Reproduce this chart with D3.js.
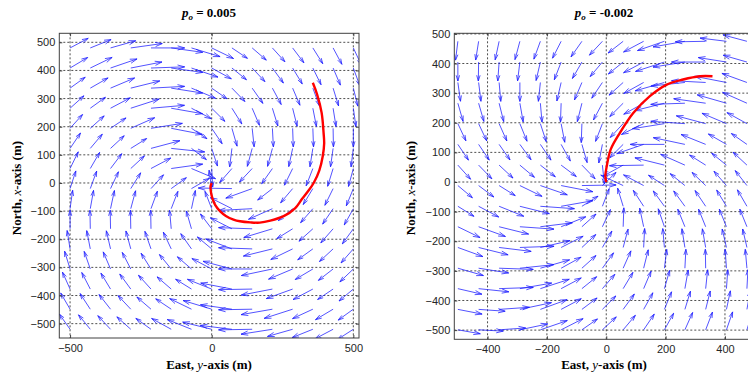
<!DOCTYPE html>
<html>
<head>
<meta charset="utf-8">
<script src="https://cdnjs.cloudflare.com/ajax/libs/d3/7.8.5/d3.min.js"></script>
<style>
  body { margin: 0; background: #fff; }
  svg { display: block; }
  .tick text { font-family: "Liberation Sans", Arial, sans-serif; font-size: 11px; fill: #262626; }
  .tick line { stroke: #404040; }
</style>
</head>
<body>
<div id="chart"></div>
<script>
// ---- data ----
// grid of arrow tails (East / North, metres)
var leftGridX = [-500, -428.6, -357.1, -285.7, -214.3, -142.9, -71.4, 0, 71.4, 142.9, 214.3, 285.7, 357.1, 428.6, 500];
var leftGridY = [480, 408.6, 337.1, 265.7, 194.3, 122.9, 51.4, -20, -91.4, -162.9, -234.3, -305.7, -377.1, -448.6, -520];

// arrow heading in degrees (0 = East, 90 = North), one row per leftGridY
var leftAngle = [
  [28, 22, 16, 8, 0, -8, -17, -26, -34, -41, -48, -53, -58, -62, -65],
  [31, 26, 19, 11, 2, -8, -19, -29, -39, -47, -54, -59, -64, -67, -70],
  [36, 30, 23, 14, 3, -9, -23, -35, -46, -55, -62, -67, -70, -73, -76],
  [42, 36, 28, 18, 5, -10, -28, -45, -58, -67, -73, -76, -79, -81, -82],
  [48, 42, 34, 24, 9, -11, -34, -56, -74, -84, -87, -88, -88, -89, -90],
  [56, 50, 43, 32, 15, -6, -37, -72, -97, -105, -105, -102, -99, -98, -97],
  [64, 60, 53, 43, 28, 8, -23, -87, -131, -133, -125, -116, -111, -107, -105],
  [72, 70, 65, 58, 48, 36, 30, 98, 179, -160, -142, -130, -121, -116, -112],
  [82, 80, 78, 75, 70, 69, 78, 111, 153, -177, -156, -140, -131, -124, -119],
  [90, 91, 91, 91, 91, 95, 106, 127, 153, 178, -163, -148, -138, -131, -126],
  [99, 101, 103, 105, 109, 115, 125, 140, 159, 178, -166, -154, -144, -137, -131],
  [107, 109, 113, 117, 122, 129, 139, 152, 165, 180, -168, -157, -149, -142, -136],
  [114, 117, 121, 126, 132, 139, 148, 158, 169, -179, -169, -160, -152, -146, -140],
  [120, 123, 128, 133, 139, 146, 154, 163, 172, -179, -170, -162, -155, -149, -144],
  [125, 129, 133, 138, 144, 151, 158, 166, 173, -179, -171, -164, -158, -152, -147]
];

// relative arrow length
var leftLength = [
  [1.1, 1.2, 1.4, 1.7, 1.8, 1.7, 1.6, 1.3, 1, 1, 1, 1, 1, 1, 1],
  [1.1, 1.3, 1.5, 1.7, 1.8, 1.7, 1.5, 1.2, 1, 1, 1, 1, 1, 1, 1],
  [1, 1.1, 1.4, 1.6, 1.8, 1.7, 1.4, 1, 1, 1, 1, 1, 1, 1, 1],
  [1, 1, 1.2, 1.6, 1.8, 1.7, 1.2, 1, 1, 1, 1, 1, 1, 1, 1],
  [1, 1, 1, 1.4, 1.7, 1.7, 1, 1, 1, 1, 1, 1, 1, 1, 1],
  [1, 1, 1, 1, 1.6, 1.8, 1, 1, 1, 1, 1, 1, 1, 1, 1],
  [1, 1, 1, 1, 1.2, 1.7, 1.4, 1, 1, 1, 1, 1, 1, 1, 1],
  [1, 1, 1, 1, 1, 1, 1.1, 1, 1.8, 1.5, 1, 1, 1, 1, 1],
  [1, 1, 1, 1, 1, 1, 1, 1, 1.3, 1.8, 1.4, 1, 1, 1, 1],
  [1, 1, 1, 1, 1, 1, 1, 1, 1.3, 1.8, 1.6, 1, 1, 1, 1],
  [1, 1, 1, 1, 1, 1, 1, 1, 1.5, 1.8, 1.6, 1.3, 1, 1, 1],
  [1, 1, 1, 1, 1, 1, 1, 1.2, 1.6, 1.8, 1.7, 1.4, 1.1, 1, 1],
  [1, 1, 1, 1, 1, 1, 1, 1.4, 1.7, 1.8, 1.7, 1.5, 1.2, 1, 1],
  [1, 1, 1, 1, 1, 1, 1.3, 1.6, 1.7, 1.8, 1.7, 1.6, 1.2, 1.1, 1],
  [1, 1, 1, 1, 1, 1.2, 1.4, 1.6, 1.7, 1.8, 1.7, 1.4, 1.2, 1.1, 1]
];

// red trajectory [East, North]
var leftPath = [[357, 356], [372, 315], [388, 250], [395, 178], [397, 140], [392, 95], [380, 45],
  [360, 0], [338, -32], [318, -58], [295, -89], [254, -118], [207, -134], [170, -141], [136, -140],
  [100, -136], [77, -130], [50, -117], [30, -101], [12, -78], [2, -53], [-3, -30], [-4, -12], [0, 0]];

var rightGridX = [-500, -430, -361, -291, -222, -152, -82, -13, 57, 126, 196, 265, 335, 405, 474];
var rightGridY = [475, 405, 336, 266, 197, 127, 57, -12, -82, -151, -221, -291, -360, -430, -499];

var rightAngle = [
  [263, 261, 258, 255, 250, 243, 235, 227, 218, 208, 199, 190, 181, 173, 165],
  [270, 269, 266, 263, 257, 249, 240, 230, 219, 208, 198, 189, 180, 171, 164],
  [278, 277, 275, 270, 264, 257, 247, 236, 222, 209, 196, 186, 177, 169, 160],
  [286, 286, 284, 280, 275, 268, 256, 242, 225, 209, 194, 182, 172, 164, 156],
  [295, 295, 294, 292, 288, 281, 268, 249, 227, 206, 189, 176, 165, 157, 151],
  [304, 304, 305, 306, 304, 299, 286, 259, 225, 199, 180, 168, 158, 150, 145],
  [312, 314, 317, 320, 322, 323, 314, 276, 209, 181, 166, 156, 148, 141, 137],
  [320, 323, 328, 334, 341, 349, 1, 44, 155, 152, 147, 141, 136, 131, 128],
  [328, 332, 338, 346, 356, 10, 32, 69, 107, 123, 126, 126, 124, 121, 120],
  [334, 340, 346, 356, 7, 22, 42, 65, 88, 102, 109, 112, 112, 112, 112],
  [340, 346, 353, 2, 13, 27, 43, 60, 75, 87, 95, 99, 100, 103, 103],
  [344, 351, 358, 6, 16, 29, 42, 54, 66, 76, 83, 87, 91, 94, 95],
  [347, 354, 2, 10, 18, 28, 39, 49, 59, 67, 74, 80, 84, 86, 87],
  [349, 356, 4, 12, 20, 28, 37, 45, 54, 61, 68, 73, 76, 78, 80],
  [350, 357, 4, 12, 19, 27, 35, 43, 50, 56, 61, 66, 69, 71, 73]
];

var rightLength = [
  [1, 1, 1, 1, 1, 1, 1, 1, 1, 1.2, 1.5, 1.7, 1.6, 1.4, 1.3],
  [1, 1, 1, 1, 1, 1, 1, 1, 1, 1.2, 1.6, 1.7, 1.8, 1.5, 1.3],
  [1, 1, 1, 1, 1, 1, 1, 1, 1, 1.2, 1.6, 1.8, 1.8, 1.7, 1.4],
  [1, 1, 1, 1, 1, 1, 1, 1, 1, 1.2, 1.6, 1.8, 1.7, 1.6, 1.4],
  [1, 1, 1, 1, 1, 1, 1, 1, 1, 1.3, 1.7, 1.8, 1.6, 1.4, 1.2],
  [1, 1, 1, 1, 1, 1, 1, 1, 1, 1.5, 1.8, 1.7, 1.4, 1.1, 1],
  [1, 1, 1, 1, 1, 1, 1, 1, 1.2, 1.8, 1.6, 1.4, 1, 1, 1],
  [1, 1, 1, 1.3, 1.5, 1.7, 1.8, 1, 1.3, 1.2, 1, 1, 1, 1, 1],
  [1, 1.2, 1.4, 1.6, 1.8, 1.7, 1, 1, 1, 1, 1, 1, 1, 1, 1],
  [1.3, 1.5, 1.6, 1.8, 1.7, 1.4, 1, 1, 1, 1, 1, 1, 1, 1, 1],
  [1.4, 1.6, 1.7, 1.8, 1.6, 1.3, 1, 1, 1, 1, 1, 1, 1, 1, 1],
  [1.4, 1.6, 1.8, 1.8, 1.6, 1.2, 1, 1, 1, 1, 1, 1, 1, 1, 1],
  [1.3, 1.6, 1.8, 1.7, 1.6, 1.2, 1, 1, 1, 1, 1, 1, 1, 1, 1],
  [1.3, 1.4, 1.6, 1.7, 1.5, 1.2, 1, 1, 1, 1, 1, 1, 1, 1, 1],
  [1.2, 1.3, 1.4, 1.5, 1.5, 1.3, 1, 1, 1, 1, 1, 1, 1, 1, 1]
];

var rightPath = [[358, 357], [316, 357], [259, 346], [204, 329], [147, 290], [91, 233],
  [46, 166], [15, 110], [2, 55], [-3, 20], [0, 0]];

var leftXTicks = [-500, 0, 500];
var rightXTicks = [-400, -200, 0, 200, 400];
var yTicks = [-500, -400, -300, -200, -100, 0, 100, 200, 300, 400, 500];
var leftValue = "0.005";
var rightValue = "-0.002";

var svg = d3.select("#chart")
            .append("svg")
            .attr("width", 748)
            .attr("height", 377);

var serif = "'Liberation Serif', 'Times New Roman', serif";

function drawPanel(p) {
  var x = d3.scaleLinear().domain(p.xDomain).range(p.xRange);
  var y = d3.scaleLinear().domain(p.yDomain).range(p.yRange);
  var left = p.xRange[0], right = p.xRange[1];
  var top = p.yRange[1], bottom = p.yRange[0];

  svg.append("clipPath")
     .attr("id", "clip-" + p.id)
     .append("rect")
     .attr("x", left).attr("y", top)
     .attr("width", right - left).attr("height", bottom - top);

  var g = svg.append("g");

  // dotted grid
  g.selectAll(".vgrid").data(p.xTicks).enter().append("line")
   .attr("x1", function(d) { return x(d); })
   .attr("x2", function(d) { return x(d); })
   .attr("y1", top).attr("y2", bottom)
   .attr("stroke", "#222").attr("stroke-width", 0.8)
   .attr("stroke-dasharray", "2,2");
  g.selectAll(".hgrid").data(p.yTicks).enter().append("line")
   .attr("y1", function(d) { return y(d); })
   .attr("y2", function(d) { return y(d); })
   .attr("x1", left).attr("x2", right)
   .attr("stroke", "#222").attr("stroke-width", 0.8)
   .attr("stroke-dasharray", "2,2");

  // quiver
  var arrows = g.append("g").attr("clip-path", "url(#clip-" + p.id + ")");
  p.gridY.forEach(function(gy, j) {
    p.gridX.forEach(function(gx, i) {
      var a = p.angle[j][i] * Math.PI / 180;
      var len = p.length[j][i] * p.unit;
      var x0 = x(gx), y0 = y(gy);
      var x1 = x(gx + len * Math.cos(a)), y1 = y(gy + len * Math.sin(a));
      var dx = x1 - x0, dy = y1 - y0;
      var L = Math.sqrt(dx * dx + dy * dy);
      var ux = dx / L, uy = dy / L;
      var h = Math.min(0.3 * L, 7), w = h * 0.3;
      var bx = x1 - h * ux, by = y1 - h * uy;
      arrows.append("path")
        .attr("d", "M" + x0 + "," + y0 + "L" + x1 + "," + y1 +
                   "M" + (bx - w * uy) + "," + (by + w * ux) + "L" + x1 + "," + y1 +
                   "L" + (bx + w * uy) + "," + (by - w * ux))
        .attr("fill", "none")
        .attr("stroke", "#1a1aff")
        .attr("stroke-width", 0.75);
    });
  });

  // trajectory
  var line = d3.line()
               .x(function(d) { return x(d[0]); })
               .y(function(d) { return y(d[1]); })
               .curve(d3.curveCatmullRom);
  g.append("path")
   .attr("d", line(p.path))
   .attr("clip-path", "url(#clip-" + p.id + ")")
   .attr("fill", "none")
   .attr("stroke", "#ff0000")
   .attr("stroke-width", 2.4);

  // axes, ticks point inward
  var ax = g.append("g").attr("transform", "translate(0," + bottom + ")")
            .call(d3.axisBottom(x).tickValues(p.xTicks).tickSize(-3).tickPadding(6));
  var ay = g.append("g").attr("transform", "translate(" + left + ",0)")
            .call(d3.axisLeft(y).tickValues(p.yTicks).tickSize(-3).tickPadding(4));
  g.append("g").attr("transform", "translate(0," + top + ")")
   .call(d3.axisTop(x).tickValues(p.xTicks).tickSize(-3).tickFormat(""));
  g.append("g").attr("transform", "translate(" + right + ",0)")
   .call(d3.axisRight(y).tickValues(p.yTicks).tickSize(-3).tickFormat(""));
  g.selectAll(".domain").remove();

  g.append("rect")
   .attr("x", left).attr("y", top)
   .attr("width", right - left).attr("height", bottom - top)
   .attr("fill", "none").attr("stroke", "#404040").attr("stroke-width", 1);

  // title
  var t = svg.append("text")
     .attr("x", p.cx).attr("y", 17)
     .attr("text-anchor", "middle")
     .attr("font-family", serif).attr("font-weight", "bold").attr("font-size", 13);
  t.append("tspan").attr("font-style", "italic").text("p");
  t.append("tspan").attr("font-style", "italic").attr("font-size", 9).attr("dy", 3).text("o");
  t.append("tspan").attr("dy", -3).text(" = " + p.value);

  // axis labels
  var xl = svg.append("text")
     .attr("x", p.cx).attr("y", 369)
     .attr("text-anchor", "middle")
     .attr("font-family", serif).attr("font-weight", "bold").attr("font-size", 13);
  xl.append("tspan").text("East, ");
  xl.append("tspan").attr("font-style", "italic").attr("font-weight", "normal").text("y");
  xl.append("tspan").text("-axis (m)");

  var yl = svg.append("text")
     .attr("transform", "translate(" + p.ylx + ",188) rotate(-90)")
     .attr("text-anchor", "middle")
     .attr("font-family", serif).attr("font-weight", "bold").attr("font-size", 13);
  yl.append("tspan").text("North, ");
  yl.append("tspan").attr("font-style", "italic").attr("font-weight", "normal").text("x");
  yl.append("tspan").text("-axis (m)");
}

drawPanel({
  id: "left", value: leftValue,
  xDomain: [-538, 520], xRange: [59.3, 359],
  yDomain: [-551, 532], yRange: [338, 33.3],
  xTicks: leftXTicks, yTicks: yTicks,
  gridX: leftGridX, gridY: leftGridY,
  angle: leftAngle, length: leftLength, unit: 66,
  path: leftPath, cx: 209, ylx: 21
});

drawPanel({
  id: "right", value: rightValue,
  xDomain: [-512, 512], xRange: [454.3, 758.2],
  yDomain: [-531, 502], yRange: [339.3, 33.3],
  xTicks: rightXTicks, yTicks: yTicks,
  gridX: rightGridX, gridY: rightGridY,
  angle: rightAngle, length: rightLength, unit: 64,
  path: rightPath, cx: 604, ylx: 415
});
</script>
</body>
</html>
